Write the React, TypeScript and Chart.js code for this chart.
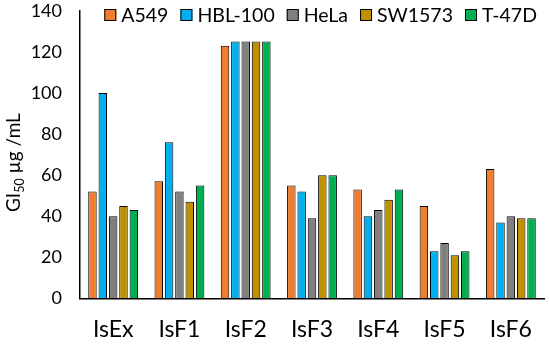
import React, { useEffect, useRef } from "react";
import { Chart, registerables } from "chart.js";

Chart.register(...registerables);

const categories = ["IsEx", "IsF1", "IsF2", "IsF3", "IsF4", "IsF5", "IsF6"];
const seriesNames = ["A549", "HBL-100", "HeLa", "SW1573", "T-47D"];
const a549 = [52, 57, 123, 55, 53, 45, 63];
const hbl100 = [100, 76, 125, 52, 40, 23, 37];
const hela = [40, 52, 125, 39, 43, 27, 40];
const sw1573 = [45, 47, 125, 60, 48, 21, 39];
const t47d = [43, 55, 125, 60, 53, 23, 39];
const colors = ["#ED7D31", "#00B0F0", "#808080", "#BF9000", "#00B050"];
const yTicks = [0, 20, 40, 60, 80, 100, 120, 140];

const FONT = "Lato, 'Open Sans', sans-serif";

const yTitlePlugin = {
  id: "yTitle",
  afterDraw(chart: any) {
    const ctx = chart.ctx;
    const area = chart.chartArea;
    ctx.save();
    const cx = 13;
    const cy = (area.top + area.bottom) / 2 + 8;
    ctx.translate(cx, cy);
    ctx.rotate(-Math.PI / 2);
    ctx.fillStyle = "#000";
    ctx.textBaseline = "alphabetic";
    const big = `19px ${FONT}`;
    const small = `12.5px ${FONT}`;
    const p1 = "GI";
    const p2 = "50";
    const p3 = " µg /mL";
    ctx.font = big;
    const w1 = ctx.measureText(p1).width;
    const w3 = ctx.measureText(p3).width;
    ctx.font = small;
    const w2 = ctx.measureText(p2).width;
    const total = w1 + w2 + w3;
    let x = -total / 2;
    const base = 7;
    ctx.font = big;
    ctx.fillText(p1, x, base);
    x += w1;
    ctx.font = small;
    ctx.fillText(p2, x, base + 4);
    x += w2;
    ctx.font = big;
    ctx.fillText(p3, x, base);
    ctx.restore();
  },
};

const legendPlugin = {
  id: "customLegend",
  afterDraw(chart: any) {
    const ctx = chart.ctx;
    ctx.save();
    ctx.font = `19.5px ${FONT}`;
    const box = 12;
    const gapText = 5;
    const gapItem = 12;
    const items = chart.data.datasets.map((d: any) => ({
      label: d.label,
      color: d.backgroundColor,
      w: ctx.measureText(d.label).width,
    }));
    const total =
      items.reduce((s: number, it: any) => s + box + gapText + it.w, 0) +
      gapItem * (items.length - 1);
    let x = 537 - total;
    const cy = 15;
    ctx.textBaseline = "middle";
    for (const it of items) {
      ctx.fillStyle = it.color;
      ctx.fillRect(x, cy - box / 2, box, box);
      ctx.strokeStyle = "#000";
      ctx.lineWidth = 1;
      ctx.strokeRect(x + 0.5, cy - box / 2 + 0.5, box - 1, box - 1);
      x += box + gapText;
      ctx.fillStyle = "#000";
      ctx.fillText(it.label, x, cy + 1);
      x += it.w + gapItem;
    }
    ctx.restore();
  },
};

export default function App() {
  const ref = useRef<HTMLCanvasElement>(null);
  useEffect(() => {
    document.body.style.margin = "0";
    const data = [a549, hbl100, hela, sw1573, t47d];
    const chart = new Chart(ref.current!, {
      type: "bar",
      data: {
        labels: categories,
        datasets: seriesNames.map((n, i) => ({
          label: n,
          data: data[i],
          backgroundColor: colors[i],
          borderColor: "#000",
          borderWidth: 1,
          categoryPercentage: 0.78,
          barPercentage: 0.82,
        })),
      },
      options: {
        animation: false,
        responsive: false,
        maintainAspectRatio: false,
        layout: { padding: { left: 13, right: 6, top: 0, bottom: -15 } },
        plugins: {
          tooltip: { enabled: false },
          legend: { display: false },
        },
        scales: {
          x: {
            grid: { display: false, drawTicks: false },
            border: { display: true, color: "#000", width: 1.5 },
            ticks: { color: "#000", font: { family: FONT, size: 23 }, padding: 17 },
          },
          y: {
            min: 0,
            max: 140,
            afterBuildTicks: (s: any) => {
              s.ticks = yTicks.map((v) => ({ value: v }));
            },
            afterFit: (s: any) => {
              s.width = 67;
            },
            grid: {
              display: true,
              drawOnChartArea: false,
              drawTicks: true,
              tickLength: 18,
              color: "rgba(0,0,0,0)",
            },
            border: { display: true, color: "#000", width: 1.5 },
            ticks: { color: "#000", font: { family: FONT, size: 18 }, padding: 0 },
          },
        },
      },
      plugins: [yTitlePlugin, legendPlugin],
    });
    return () => chart.destroy();
  }, []);
  return <canvas ref={ref} width={550} height={345} style={{ display: "block" }} />;
}
